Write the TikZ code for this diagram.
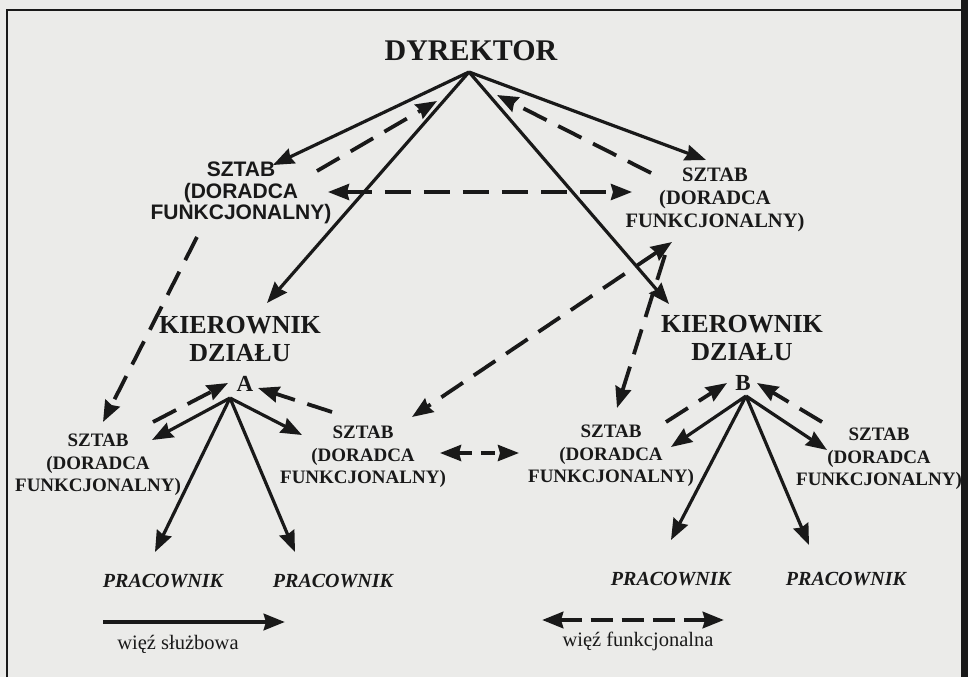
\documentclass[tikz,border=0pt]{standalone}
\usepackage{fontspec}
\setmainfont{Liberation Serif}
\setsansfont{Liberation Sans}
\usetikzlibrary{arrows.meta}
\definecolor{paper}{RGB}{235,235,233}
\definecolor{ink}{RGB}{25,25,25}
\begin{document}
\begin{tikzpicture}[x=1pt,y=-1pt,
  every node/.style={text=ink, inner sep=0pt, align=center},
  head/.style={node font=\bfseries\fontsize{30}{30}\selectfont},
  chief/.style={node font=\bfseries\fontsize{26}{28}\selectfont},
  letter/.style={node font=\bfseries\fontsize{23}{23}\selectfont},
  staffsans/.style={node font=\sffamily\bfseries\fontsize{21}{21.5}\selectfont},
  staffbig/.style={node font=\bfseries\fontsize{20.5}{23}\selectfont},
  staff/.style={node font=\bfseries\fontsize{19}{22.5}\selectfont},
  worker/.style={node font=\bfseries\itshape\fontsize{20}{20}\selectfont},
  legend/.style={node font=\fontsize{20.5}{20}\selectfont},
  arrowhead/.tip={Stealth[length=21pt,width=16pt,inset=2pt]},
  tip/.style={-arrowhead},
  line/.style={draw=ink, line width=3.2pt, tip},
  func/.style={draw=ink, line width=3.8pt, tip, dash pattern=on 26pt off 13pt},
  funcboth/.style={func, arrowhead-arrowhead},
  frame/.style={draw=ink, line width=1.8pt}
]
% paper and frame
\fill[paper] (0,0) rectangle (968,677);
\useasboundingbox (0,0) rectangle (968,677);
\draw[frame] (7,677) -- (7,10) -- (962,10);
\fill[ink] (961,0) rectangle (968,677);

% text nodes
\node[head] (dyr) at (471,51) {DYREKTOR};
\node[staffsans] (sL) at (241,193) {SZTAB\\(DORADCA\\FUNKCJONALNY)};
\node[staffbig] (sR) at (715,200) {SZTAB\\(DORADCA\\FUNKCJONALNY)};
\node[chief] (kA) at (240,339) {KIEROWNIK\\DZIAŁU};
\node[letter] (A) at (245,384) {A};
\node[chief] (kB) at (742,338) {KIEROWNIK\\DZIAŁU};
\node[letter] (B) at (743,383) {B};
\node[staff] (sAL) at (98,465) {SZTAB\\(DORADCA\\FUNKCJONALNY)};
\node[staff] (sAR) at (363,457) {SZTAB\\(DORADCA\\FUNKCJONALNY)};
\node[staff] (sBL) at (611,456) {SZTAB\\(DORADCA\\FUNKCJONALNY)};
\node[staff] (sBR) at (879,459) {SZTAB\\(DORADCA\\FUNKCJONALNY)};
\node[worker] (p1) at (163,581) {PRACOWNIK};
\node[worker] (p2) at (333,581) {PRACOWNIK};
\node[worker] (p3) at (671,579) {PRACOWNIK};
\node[worker] (p4) at (846,579) {PRACOWNIK};
\node[legend] (lg1) at (178,644) {więź służbowa};
\node[legend] (lg2) at (638,641) {więź funkcjonalna};

% connector end points
\coordinate (dApex) at (469,72);
\coordinate (aApex) at (230,398);
\coordinate (bApex) at (746,396);
\coordinate (sLin) at (273,165);
\coordinate (sLout) at (317,171);
\coordinate (dInL) at (437,101);
\coordinate (kAin) at (267,303);
\coordinate (sRin) at (706,160);
\coordinate (sRout) at (651,173);
\coordinate (dInR) at (497,95);
\coordinate (kBin) at (669,304);
\coordinate (sLside) at (328,192);
\coordinate (sRside) at (632,192);
\coordinate (sLdown) at (197,237);
\coordinate (sALtop) at (103,422);
\coordinate (sRdown) at (672,242);
\coordinate (sARtop) at (412,417);
\coordinate (sRdown2) at (665,255);
\coordinate (sBLtop) at (617,408);

\coordinate (sALin) at (152,440);
\coordinate (sALout) at (153,422);
\coordinate (aInL) at (228,383);
\coordinate (p1in) at (155,552);
\coordinate (p2in) at (295,552);
\coordinate (sARin) at (302,435);
\coordinate (sARout) at (332,412);
\coordinate (aInR) at (258,388);
\coordinate (sARside) at (440,453);
\coordinate (sBLside) at (519,453);

\coordinate (sBLin) at (671,447);
\coordinate (sBLout) at (666,422);
\coordinate (bInL) at (727,383);
\coordinate (p3in) at (671,540);
\coordinate (p4in) at (809,545);
\coordinate (sBRin) at (827,450);
\coordinate (sBRout) at (822,422);
\coordinate (bInR) at (757,383);

\coordinate (lgA) at (103,622);
\coordinate (lgB) at (285,622);
\coordinate (lgC) at (542,620);
\coordinate (lgD) at (724,620);

% director level
\draw[line] (dApex) -- (sLin);
\draw[func] (sLout) -- (dInL);
\draw[line] (dApex) -- (kAin);
\draw[line] (dApex) -- (sRin);
\draw[func] (sRout) -- (dInR);
\draw[line] (dApex) -- (kBin);
\draw[funcboth] (sLside) -- (sRside);
\draw[func] (sLdown) -- (sALtop);
\draw[funcboth] (sRdown) -- (sARtop);
\draw[func] (sRdown2) -- (sBLtop);

% department A
\draw[line] (aApex) -- (sALin);
\draw[func] (sALout) -- (aInL);
\draw[line] (aApex) -- (p1in);
\draw[line] (aApex) -- (p2in);
\draw[line] (aApex) -- (sARin);
\draw[func] (sARout) -- (aInR);
\draw[funcboth, dash pattern=on 14pt off 9pt] (sARside) -- (sBLside);

% department B
\draw[line] (bApex) -- (sBLin);
\draw[func] (sBLout) -- (bInL);
\draw[line] (bApex) -- (p3in);
\draw[line] (bApex) -- (p4in);
\draw[line] (bApex) -- (sBRin);
\draw[func] (sBRout) -- (bInR);

% legend
\draw[line, line width=4.8pt] (lgA) -- (lgB);
\draw[funcboth, line width=4.8pt, dash pattern=on 22pt off 9pt] (lgC) -- (lgD);
\end{tikzpicture}
\end{document}
